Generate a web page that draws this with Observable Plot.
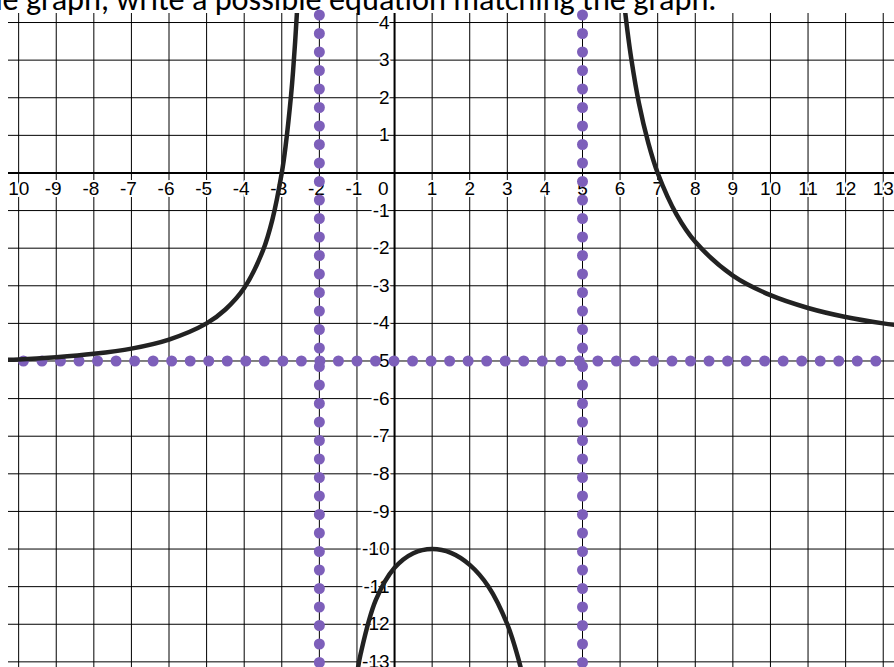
<!DOCTYPE html>
<html>
<head>
<meta charset="utf-8">
<script src="https://cdn.jsdelivr.net/npm/d3@7"></script>
<script src="https://cdn.jsdelivr.net/npm/@observablehq/plot@0.6"></script>
<style>
  html, body { margin: 0; padding: 0; background: #fff; }
  #chart svg { display: block; }
</style>
</head>
<body>
<div id="chart"></div>
<script>
// ---- data ----
const titleText = "Given the graph, write a possible equation matching the graph.";
const xTicks = [-10,-9,-8,-7,-6,-5,-4,-3,-2,-1,1,2,3,4,5,6,7,8,9,10,11,12,13];
const xTickLabels = ["-10","-9","-8","-7","-6","-5","-4","-3","-2","-1","1","2","3","4","5","6","7","8","9","10","11","12","13"];
const yTicks = [4,3,2,1,-1,-2,-3,-4,-5,-6,-7,-8,-9,-10,-11,-12,-13];
const yTickLabels = ["4","3","2","1","-1","-2","-3","-4","-5","-6","-7","-8","-9","-10","-11","-12","-13"];
const gridX = [-10,-9,-8,-7,-6,-5,-4,-3,-2,-1,0,1,2,3,4,5,6,7,8,9,10,11,12,13];
const gridY = [4,3,2,1,0,-1,-2,-3,-4,-5,-6,-7,-8,-9,-10,-11,-12,-13];
const verticalAsymptotes = [-2, 5];
const horizontalAsymptotes = [-5];

// curve branches
const leftX  = [-10.4, -10, -9, -8, -7, -6, -5, -4.5, -4, -3.5, -3.25, -3, -2.9, -2.75, -2.7, -2.6, -2.5];
const leftY  = [-4.97, -4.96, -4.9, -4.81, -4.67, -4.43, -4.0, -3.63, -3.06, -2.06, -1.24, 0, 0.70, 2.10, 2.70, 4.21, 6.33];
const midX   = [-1.1, -1, -0.9, -0.5, 0, 0.5, 1, 1.5, 2, 2.5, 3, 3.3, 3.5];
const midY   = [-14.0, -13.33, -12.78, -11.36, -10.5, -10.11, -10, -10.1, -10.42, -11.0, -12.0, -12.94, -13.79];
const rightX = [6, 6.1, 6.2, 6.3, 6.5, 6.75, 7, 7.5, 8, 9, 10, 11, 12, 13, 13.4];
const rightY = [5.63, 4.60, 3.74, 3.02, 1.86, 0.80, 0, -1.1, -1.83, -2.73, -3.25, -3.59, -3.83, -4.0, -4.05];

// ---- build tables ----
const curve = [
  ...leftX.map((x, i) => ({x, y: leftY[i], b: "left"})),
  ...midX.map((x, i) => ({x, y: midY[i], b: "mid"})),
  ...rightX.map((x, i) => ({x, y: rightY[i], b: "right"}))
];
const xLab = xTicks.map((v, i) => ({v, t: xTickLabels[i]}));
const xLabNeg = xLab.filter(d => d.v < 0);
const xLabPos = xLab.filter(d => d.v > 0);
const yLab = yTicks.map((v, i) => ({v, t: yTickLabels[i]}));

// title font size fitted to the reference width (measured with the real font)
const titleFont = "Carlito, Lato, sans-serif";
const svgNS = "http://www.w3.org/2000/svg";
const tmpSvg = document.createElementNS(svgNS, "svg");
tmpSvg.setAttribute("width", 10); tmpSvg.setAttribute("height", 10);
tmpSvg.style.position = "absolute"; tmpSvg.style.visibility = "hidden";
const tmpText = document.createElementNS(svgNS, "text");
tmpText.setAttribute("font-size", 100);
tmpText.setAttribute("font-family", titleFont);
tmpText.textContent = "graph, write a possible equation matching the graph.";
tmpSvg.appendChild(tmpText);
document.body.appendChild(tmpSvg);
const w100 = tmpText.getComputedTextLength();
tmpSvg.remove();
const titleSize = 100 * 691 / w100;

const W = 894, H = 667;
const purple = "#7d5fba";
const labelFont = "Liberation Sans, Arial, Helvetica, sans-serif";
const labelStyle = {fontSize: 19, fontFamily: labelFont, fill: "#000", stroke: "white", strokeWidth: 4};

const chart = Plot.plot({
  width: W, height: H,
  marginLeft: 8, marginRight: 0, marginTop: 13, marginBottom: 0,
  x: {domain: [-10.27, 13.30], axis: null},
  y: {domain: [-13.15, 4.24], axis: null},
  style: {background: "white", overflow: "hidden"},
  marks: [
    Plot.ruleX(gridX, {stroke: "#000", strokeWidth: 1}),
    Plot.ruleY(gridY, {stroke: "#000", strokeWidth: 1}),
    Plot.ruleX([0], {stroke: "#000", strokeWidth: 2}),
    Plot.ruleY([0], {stroke: "#000", strokeWidth: 2}),
    Plot.text(xLabNeg, {x: "v", y: 0, text: "t", dy: 16, dx: -3, textAnchor: "middle", clip: true, ...labelStyle}),
    Plot.text(xLabPos, {x: "v", y: 0, text: "t", dy: 16, textAnchor: "middle", clip: true, ...labelStyle}),
    Plot.text(["0"], {x: 0, y: 0, text: d => d, dx: -6, dy: 16, textAnchor: "end", ...labelStyle}),
    Plot.text(yLab, {x: 0, y: "v", text: "t", dx: -5, textAnchor: "end", clip: true, ...labelStyle}),
    Plot.ruleY(horizontalAsymptotes, {stroke: purple, strokeWidth: 11, strokeLinecap: "round",
      strokeDasharray: "0 18.53", strokeDashoffset: 3.1}),
    Plot.ruleX(verticalAsymptotes, {stroke: purple, strokeWidth: 11, strokeLinecap: "round",
      strokeDasharray: "0 18.5", strokeDashoffset: 16.5}),
    Plot.line(curve, {x: "x", y: "y", z: "b", curve: "catmull-rom", stroke: "#222",
      strokeWidth: 4.5, clip: true}),
    Plot.text([titleText], {frameAnchor: "top-right", text: d => d, dx: -178, dy: -4,
      textAnchor: "end", lineAnchor: "bottom", fontSize: titleSize,
      fontFamily: titleFont, fill: "#000"})
  ]
});
document.getElementById("chart").appendChild(chart);
</script>
</body>
</html>
